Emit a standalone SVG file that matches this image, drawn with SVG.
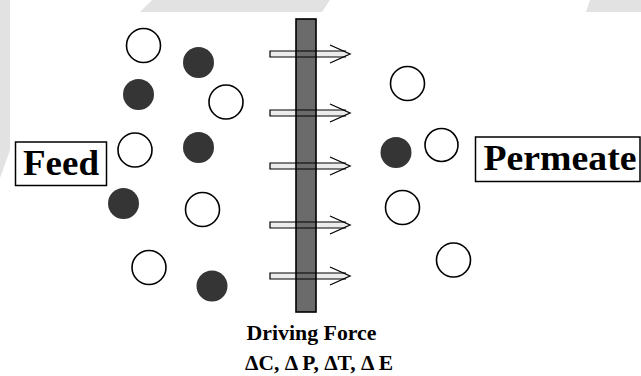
<svg xmlns="http://www.w3.org/2000/svg" width="641" height="376" viewBox="0 0 641 376">
<defs>
<style>
.open{fill:#fff;stroke:#000;stroke-width:1.6}
.solid{fill:#353535;stroke:none}
.shaft{fill:#ececec;stroke:none}
.shaftline{fill:none;stroke:#000;stroke-width:1.2}
.head{fill:none;stroke:#000;stroke-width:1.3;stroke-linejoin:miter}
.box{fill:#fff;stroke:#000;stroke-width:1.5}
.lbl{font-family:"Liberation Serif","Times New Roman",serif;font-weight:bold;fill:#000}
.wm{fill:#e2e2e2}
</style>
</defs>
<rect x="0" y="0" width="641" height="376" fill="#fff"/>
<g id="watermark">
<polygon class="wm" points="0,0 641,0 641,12 0,12"/>
<polygon fill="#fff" points="10,0 152,0 140,12 10,12"/>
<polygon fill="#fff" points="330,0 590,0 586,12 322,12"/>
<polygon class="wm" points="0,12 10,12 10,150 0,178"/>
</g>
<g id="connectors">
<g id="arrow1" transform="translate(0,54)">
<rect class="shaft" x="270" y="-3" width="77" height="6"/>
</g>
<g id="arrow2" transform="translate(0,113)">
<rect class="shaft" x="270" y="-3" width="77" height="6"/>
</g>
<g id="arrow3" transform="translate(0,166)">
<rect class="shaft" x="270" y="-3" width="77" height="6"/>
</g>
<g id="arrow4" transform="translate(0,225)">
<rect class="shaft" x="270" y="-3" width="77" height="6"/>
</g>
<g id="arrow5" transform="translate(0,276)">
<rect class="shaft" x="270" y="-3" width="77" height="6"/>
</g>
</g>
<g id="membrane">
<rect x="296" y="19" width="20" height="293" fill="#6b6b6b" stroke="#000" stroke-width="1.6"/>
</g>
<g id="connector-lines">
<g transform="translate(0,54)"><path class="shaftline" d="M346,-3 H270 V3 H346"/><path class="head" d="M330,-9 L350,0 L330,9"/></g>
<g transform="translate(0,113)"><path class="shaftline" d="M346,-3 H270 V3 H346"/><path class="head" d="M330,-9 L350,0 L330,9"/></g>
<g transform="translate(0,166)"><path class="shaftline" d="M346,-3 H270 V3 H346"/><path class="head" d="M330,-9 L350,0 L330,9"/></g>
<g transform="translate(0,225)"><path class="shaftline" d="M346,-3 H270 V3 H346"/><path class="head" d="M330,-9 L350,0 L330,9"/></g>
<g transform="translate(0,276)"><path class="shaftline" d="M346,-3 H270 V3 H346"/><path class="head" d="M330,-9 L350,0 L330,9"/></g>
</g>
<g id="feed-particles">
<circle class="open" cx="143.5" cy="45.5" r="17"/>
<circle class="solid" cx="198.5" cy="62.5" r="15.5"/>
<circle class="solid" cx="138.5" cy="94.5" r="15.5"/>
<circle class="open" cx="226" cy="102" r="17"/>
<circle class="open" cx="135" cy="150" r="17"/>
<circle class="solid" cx="198.5" cy="147.5" r="15.5"/>
<circle class="solid" cx="123.5" cy="203.5" r="15.5"/>
<circle class="open" cx="202.5" cy="209.5" r="17"/>
<circle class="open" cx="149" cy="267.5" r="17"/>
<circle class="solid" cx="212" cy="286" r="15.5"/>
</g>
<g id="permeate-particles">
<circle class="open" cx="407.5" cy="83.5" r="17"/>
<circle class="solid" cx="396" cy="152.5" r="15.5"/>
<circle class="open" cx="441.5" cy="145" r="16.5"/>
<circle class="open" cx="402.5" cy="207.5" r="17"/>
<circle class="open" cx="453.5" cy="260" r="17"/>
</g>
<g id="feed">
<rect class="box" x="15.5" y="142" width="91" height="43.5"/>
<text class="lbl" x="61" y="175" font-size="36" text-anchor="middle" textLength="76" lengthAdjust="spacingAndGlyphs">Feed</text>
</g>
<g id="permeate">
<rect class="box" x="475.5" y="137" width="164.5" height="44.5"/>
<text class="lbl" x="560" y="169.5" font-size="36" text-anchor="middle" textLength="153" lengthAdjust="spacingAndGlyphs">Permeate</text>
</g>
<g id="driving-force">
<text class="lbl" x="311.5" y="340" font-size="20" text-anchor="middle" textLength="130" lengthAdjust="spacingAndGlyphs">Driving Force</text>
<text class="lbl" x="319" y="370" font-size="20" text-anchor="middle" textLength="148" lengthAdjust="spacingAndGlyphs">ΔC, Δ P, ΔT, Δ E</text>
</g>
</svg>
